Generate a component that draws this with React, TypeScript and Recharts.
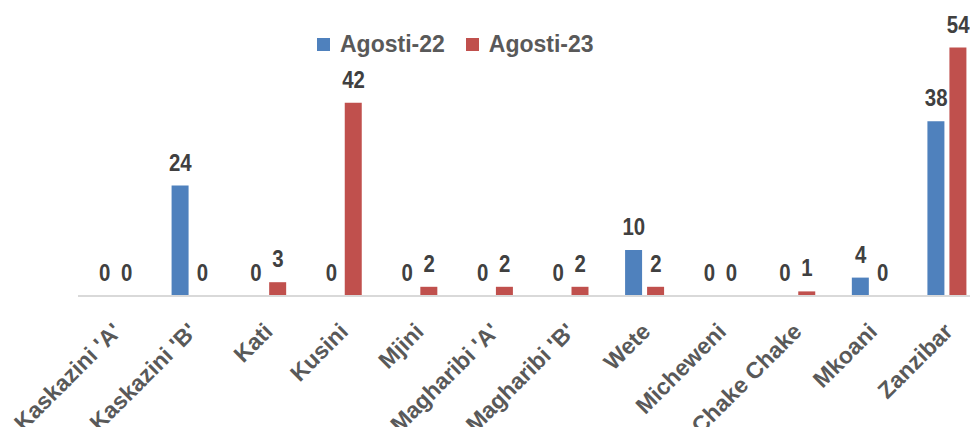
import React from "react";
import { Bar, ComposedChart, Line, XAxis, YAxis, LabelList } from "recharts";

const districts = [
  "Kaskazini 'A'",
  "Kaskazini 'B'",
  "Kati",
  "Kusini",
  "Mjini",
  "Magharibi 'A'",
  "Magharibi 'B'",
  "Wete",
  "Micheweni",
  "Chake Chake",
  "Mkoani",
  "Zanzibar",
];
const agosti22 = [0, 24, 0, 0, 0, 0, 0, 10, 0, 0, 4, 38];
const agosti23 = [0, 0, 3, 42, 2, 2, 2, 2, 0, 1, 0, 54];

const data = districts.map((name, i) => ({
  name,
  a22: agosti22[i],
  a23: agosti23[i],
}));

const BLUE = "#4F81BD";
const RED = "#C0504D";
const FONT = "'Liberation Sans', Arial, sans-serif";

const AxisTick = ({ x, y, payload }: any) => {
  const tx = x + 7;
  const ty = y + 29;
  return (
    <text
      x={tx}
      y={ty}
      transform={`rotate(-45, ${tx}, ${ty})`}
      textAnchor="end"
      fontSize={23}
      fontWeight="bold"
      fontFamily={FONT}
      fill="#595959"
    >
      {payload.value}
    </text>
  );
};

// value labels sit over each bar of the pair (bar 17px, gap 5px)
const makeLabel = (dx: number) => (props: any) => {
  const { x, y, value } = props;
  return (
    <text
      transform={`translate(${x + dx}, ${y - 15}) scale(0.85, 1)`}
      textAnchor="middle"
      fontSize={24}
      fontWeight="bold"
      fontFamily={FONT}
      fill="#404040"
    >
      {value}
    </text>
  );
};

const legendItems = [
  { label: "Agosti-22", color: BLUE },
  { label: "Agosti-23", color: RED },
];

export default function App() {
  return (
    <div style={{ position: "absolute", left: 0, top: 0, width: 970, height: 427, overflow: "hidden", background: "#fff" }}>
      <ComposedChart
        width={1000}
        height={427}
        data={data}
        margin={{ top: 20, right: 15, left: 78, bottom: 0 }}
        barSize={17}
        barGap={5}
      >
        <XAxis
          dataKey="name"
          interval={0}
          height={131}
          tickLine={false}
          axisLine={{ stroke: "#D9D9D9", strokeWidth: 2 }}
          tick={<AxisTick />}
        />
        <YAxis hide domain={[0, 60]} />
        <Bar dataKey="a22" fill={BLUE} isAnimationActive={false} />
        <Bar dataKey="a23" fill={RED} isAnimationActive={false} />
        <Line dataKey="a22" stroke="none" dot={false} activeDot={false} isAnimationActive={false}>
          <LabelList dataKey="a22" content={makeLabel(-11)} />
        </Line>
        <Line dataKey="a23" stroke="none" dot={false} activeDot={false} isAnimationActive={false}>
          <LabelList dataKey="a23" content={makeLabel(11)} />
        </Line>
      </ComposedChart>
      <div style={{ position: "absolute", top: 31, left: 317, display: "flex", alignItems: "center" }}>
        {legendItems.map((it) => (
          <div key={it.label} style={{ display: "flex", alignItems: "center", marginRight: 21 }}>
            <span style={{ width: 13, height: 13, background: it.color, display: "inline-block", marginRight: 10 }} />
            <span style={{ fontFamily: FONT, fontWeight: "bold", fontSize: 23, color: "#595959" }}>{it.label}</span>
          </div>
        ))}
      </div>
    </div>
  );
}
